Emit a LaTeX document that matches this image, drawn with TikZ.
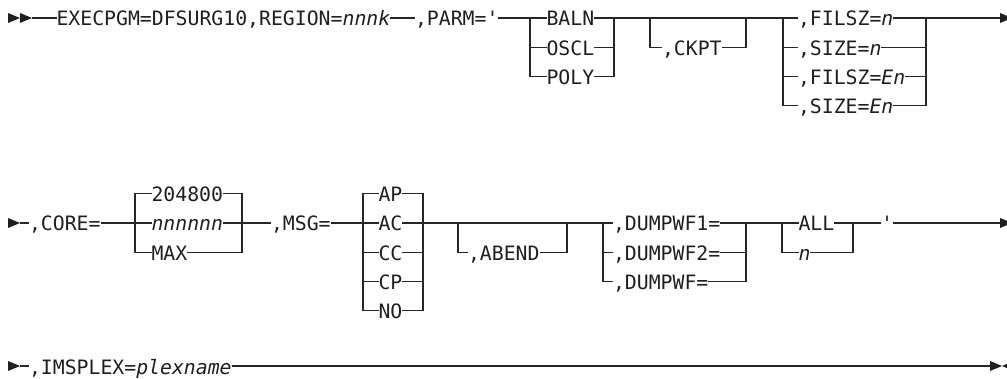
\documentclass[tikz,border=0pt]{standalone}
\usepackage{fontspec}
\setmonofont{DejaVu Sans Mono}[ItalicFont={DejaVu Sans Mono Oblique}]
\begin{document}
\begin{tikzpicture}[x=1pt,y=-1pt,
  rr/.style={line width=1.2pt, draw=black!85},
  lbl/.style={inner sep=0pt, outer sep=0pt, anchor=west, text height=16pt, text depth=0pt,
    font=\ttfamily\fontsize{19.8}{20}\selectfont, text=black!88},
  tipfill/.style={fill=black!88, draw=none}]
\useasboundingbox (0,0) rectangle (1007,379);
\clip (0,0) rectangle (1007,379);

% ---------- Row 1 ----------
\fill[tipfill] (8,13) -- (20,18) -- (8,23) -- cycle;
\fill[tipfill] (20,13) -- (32,18) -- (20,23) -- cycle;
\coordinate (r1s) at (32,18);
\node[lbl] (exec) at (56.5,18) {EXECPGM=DFSURG10,REGION=\textit{nnnk}};
\node[lbl] (parm) at (415,18) {,PARM='};
\coordinate (a1) at (530,18); \coordinate (a2) at (614,18);
\node[lbl] (baln) at (546.5,18) {BALN};
\node[lbl] (oscl) at (546.5,47.3) {OSCL};
\node[lbl] (poly) at (546.5,76.6) {POLY};
\coordinate (b1) at (650,18); \coordinate (b2) at (746,18);
\node[lbl] (ckpt) at (662,47.3) {,CKPT};
\coordinate (c1) at (783,18); \coordinate (c2) at (926,18);
\node[lbl] (fa) at (798,18) {,FILSZ=\textit{n}};
\node[lbl] (fb) at (798,47.3) {,SIZE=\textit{n}};
\node[lbl] (fc) at (798,76.6) {,FILSZ=\textit{En}};
\node[lbl] (fd) at (798,105.9) {,SIZE=\textit{En}};
\coordinate (r1e) at (1001,18);

\draw[rr] (r1s) -- (exec.west);
\draw[rr] (exec.east) -- (parm.west);
\draw[rr] (parm.east) -- (a1) -- (baln.west);
\draw[rr] (a1) |- (oscl.west);
\draw[rr] (a1) |- (poly.west);
\draw[rr] (baln.east) -- (a2);
\draw[rr] (oscl.east) -| (a2);
\draw[rr] (poly.east) -| (a2);
\draw[rr] (a2) -- (b1) -- (b2) -- (c1);
\draw[rr] (b1) |- (ckpt.west);
\draw[rr] (ckpt.east) -| (b2);
\draw[rr] (c1) -- (fa.west);
\draw[rr] (c1) |- (fb.west);
\draw[rr] (c1) |- (fc.west);
\draw[rr] (c1) |- (fd.west);
\draw[rr] (fa.east) -- (c2) -- (r1e);
\draw[rr] (fb.east) -| (c2);
\draw[rr] (fc.east) -| (c2);
\draw[rr] (fd.east) -| (c2);
\fill[tipfill] (1000,13) -- (1012,18) -- (1000,23) -- cycle;

% ---------- Row 2 ----------
\fill[tipfill] (8,218) -- (20,223) -- (8,228) -- cycle;
\coordinate (r2s) at (20,223);
\node[lbl] (core) at (29,223) {,CORE=};
\coordinate (d1) at (135,223); \coordinate (d2) at (242,223);
\node[lbl] (cdef) at (151.5,193.7) {204800};
\node[lbl] (cn) at (151.5,223) {\textit{nnnnnn}};
\node[lbl] (cmax) at (151.5,252.3) {MAX};
\node[lbl] (msg) at (271,223) {,MSG=};
\coordinate (e1) at (363,223); \coordinate (e2) at (423,223);
\node[lbl] (ap) at (378.5,193.7) {AP};
\node[lbl] (ac) at (378.5,223) {AC};
\node[lbl] (cc) at (378.5,252.3) {CC};
\node[lbl] (cp) at (378.5,281.6) {CP};
\node[lbl] (no) at (378.5,310.9) {NO};
\coordinate (g1) at (458,223); \coordinate (g2) at (567,223);
\node[lbl] (abend) at (468,252.3) {,ABEND};
\coordinate (h1) at (603,223); \coordinate (h2) at (746,223);
\node[lbl] (dw1) at (613,223) {,DUMPWF1=};
\node[lbl] (dw2) at (613,252.3) {,DUMPWF2=};
\node[lbl] (dw) at (613,281.6) {,DUMPWF=};
\coordinate (k1) at (782,223); \coordinate (k2) at (853,223);
\node[lbl] (all) at (798.5,223) {ALL};
\node[lbl] (nn) at (798.5,252.3) {\textit{n}};
\node[lbl] (quote) at (881,223) {'};
\coordinate (r2e) at (1001,223);

\draw[rr] (r2s) -- (core.west);
\draw[rr] (core.east) -- (d1) -- (cn.west);
\draw[rr] (d1) |- (cdef.west);
\draw[rr] (d1) |- (cmax.west);
\draw[rr] (cdef.east) -| (d2);
\draw[rr] (cn.east) -- (d2);
\draw[rr] (cmax.east) -| (d2);
\draw[rr] (d2) -- (msg.west);
\draw[rr] (msg.east) -- (e1) -- (ac.west);
\draw[rr] (e1) |- (ap.west);
\draw[rr] (e1) |- (cc.west);
\draw[rr] (e1) |- (cp.west);
\draw[rr] (e1) |- (no.west);
\draw[rr] (ap.east) -| (e2);
\draw[rr] (ac.east) -- (e2);
\draw[rr] (cc.east) -| (e2);
\draw[rr] (cp.east) -| (e2);
\draw[rr] (no.east) -| (e2);
\draw[rr] (e2) -- (g1) -- (g2) -- (h1);
\draw[rr] (g1) |- (abend.west);
\draw[rr] (abend.east) -| (g2);
\draw[rr] (h1) -- (dw1.west);
\draw[rr] (h1) |- (dw2.west);
\draw[rr] (h1) |- (dw.west);
\draw[rr] (dw1.east) -- (h2);
\draw[rr] (dw2.east) -| (h2);
\draw[rr] (dw.east) -| (h2);
\draw[rr] (h2) -- (k1) -- (all.west);
\draw[rr] (k1) |- (nn.west);
\draw[rr] (all.east) -- (k2);
\draw[rr] (nn.east) -| (k2);
\draw[rr] (k2) -- (quote.west);
\draw[rr] (quote.east) -- (r2e);
\fill[tipfill] (1000,218) -- (1012,223) -- (1000,228) -- cycle;

% ---------- Row 3 ----------
\fill[tipfill] (8,361) -- (20,366) -- (8,371) -- cycle;
\coordinate (r3s) at (20,366);
\node[lbl] (imsplex) at (29,366) {,IMSPLEX=\textit{plexname}};
\coordinate (r3e) at (990,366);
\draw[rr] (r3s) -- (imsplex.west);
\draw[rr] (imsplex.east) -- (r3e);
\fill[tipfill] (990,361) -- (1002,366) -- (990,371) -- cycle;
\fill[tipfill] (1014,361) -- (1002,366) -- (1014,371) -- cycle;
\end{tikzpicture}
\end{document}
